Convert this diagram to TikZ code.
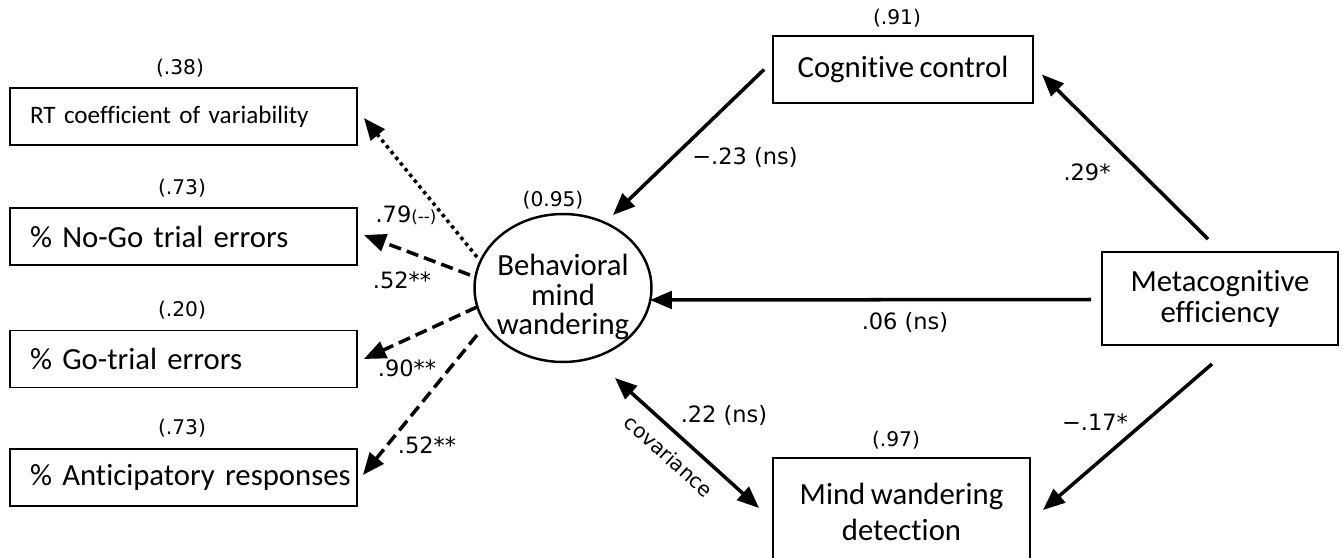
\documentclass[tikz,border=0pt]{standalone}
\usepackage{fontspec}
\setmainfont{Carlito}[Ligatures=NoCommon,WordSpace=0.8]
\newfontfamily\numfont{DejaVu Sans}
\usetikzlibrary{arrows.meta,shapes.geometric,calc}

\begin{document}
\begin{tikzpicture}[x=0.02cm,y=-0.02cm,
  box/.style={draw,line width=1.1pt,inner sep=0pt,align=center,font=\fontsize{17.5}{18}\selectfont},
  ind/.style={draw,line width=1.1pt,inner xsep=0.4cm,inner ysep=0pt,text width=6.14cm,minimum height=1.14cm,align=left,font=\fontsize{17.5}{18}\selectfont},
  coef/.style={font=\numfont\fontsize{12.8}{14}\selectfont,inner sep=0pt},
  var/.style={font=\numfont\fontsize{11.5}{13}\selectfont,inner sep=0pt},
  reg/.style={line width=2pt,-{Triangle[length=12.5pt,width=10pt]}},
  load/.style={reg,dash pattern=on 7pt off 3.5pt}]
\clip (0,0) rectangle (1343,558);
% Indicators of the latent variable
\node[ind,font=\fontsize{14.3}{17}\selectfont] (rt) at (183.5,116.5) {\mbox{RT coefficient of variability}};
\node[ind] (nogo) at (183.5,236.5) {\mbox{\% No-Go trial errors}};
\node[ind] (go) at (183.5,359) {\mbox{\% Go-trial errors}};
\node[ind] (antic) at (183.5,477.5) {\mbox{\% Anticipatory responses}};
\node[var] (vrt) at (180,68) {(.38)};
\node[var] (vnogo) at (182,188) {(.73)};
\node[var] (vgo) at (182,310) {(.20)};
\node[var] (vantic) at (182,428) {(.73)};
% Latent variable + observed predictors
\node[ellipse,draw,line width=1.4pt,minimum width=3.54cm,minimum height=2.96cm] (bmw) at (563,288) {};
\node[align=center,inner sep=0pt,font=\fontsize{17.5}{17}\selectfont] (bmwtext) at ($(bmw)+(0,9)$) {Behavioral\\mind\\wandering};
\node[var] (vbmw) at (553,200) {(0.95)};
\node[box,minimum width=5.2cm,minimum height=1.34cm] (cog) at (903,69.5) {Cognitive control};
\node[var] (vcog) at (897,18) {(.91)};
\node[box,minimum width=4.72cm,minimum height=1.86cm,font=\fontsize{17.5}{17.6}\selectfont] (meta) at (1220,298.5) {Metacognitive\\efficiency};
\node[box,minimum width=5.14cm,minimum height=2.16cm,font=\fontsize{17.5}{20}\selectfont] (mwd) at (901.5,512) {Mind wandering\\detection};
\node[var] (vmwd) at (896,440) {(.97)};
% Loadings
\draw[reg,dash pattern=on 2pt off 2.2pt] ($(bmw)+(-86,-31)$) -- ($(rt.east)+(6,1.5)$);
\draw[load] ($(bmw)+(-93,-13)$) -- ($(nogo.east)+(6,-1.5)$);
\draw[load] ($(bmw)+(-86,19)$) -- ($(go.east)+(6,0)$);
\draw[load] ($(bmw)+(-86,47)$) -- ($(antic.east)+(5,-2.5)$);
\node[coef] (l79) at (406,215) {.79{\fontsize{9.5}{10}\selectfont(--)}};
\node[coef] (l52a) at (402,280) {.52**};
\node[coef] (l90) at (407,368) {.90**};
\node[coef] (l52b) at (427,445) {.52**};
% Structural paths
\draw[reg] ($(cog.west)+(-8,0)$) -- ($(bmw)+(50,-73)$);
\draw[reg] ($(meta.north)+(-12,-12)$) -- ($(cog.east)+(8,5)$);
\draw[reg] ($(meta.west)+(-10,1)$) -- ($(bmw)+(87,12)$);
\draw[reg] ($(meta.south)+(-8,18)$) -- ($(mwd.east)+(12,-2)$);
\draw[reg,{Triangle[length=12.5pt,width=10pt]}-{Triangle[length=12.5pt,width=10pt]}] ($(bmw)+(52,90)$) -- ($(mwd.west)+(-13,-4)$);
\node[coef] (l23) at (745,157) {−.23 (ns)};
\node[coef] (l29) at (1087,172) {.29*};
\node[coef] (l06) at (905,322) {.06 (ns)};
\node[coef] (l17) at (1095,422) {−.17*};
\node[coef] (l22) at (724,415) {.22 (ns)};
\node[var,rotate=-42] (lcov) at (669,456) {covariance};
\end{tikzpicture}
\end{document}
